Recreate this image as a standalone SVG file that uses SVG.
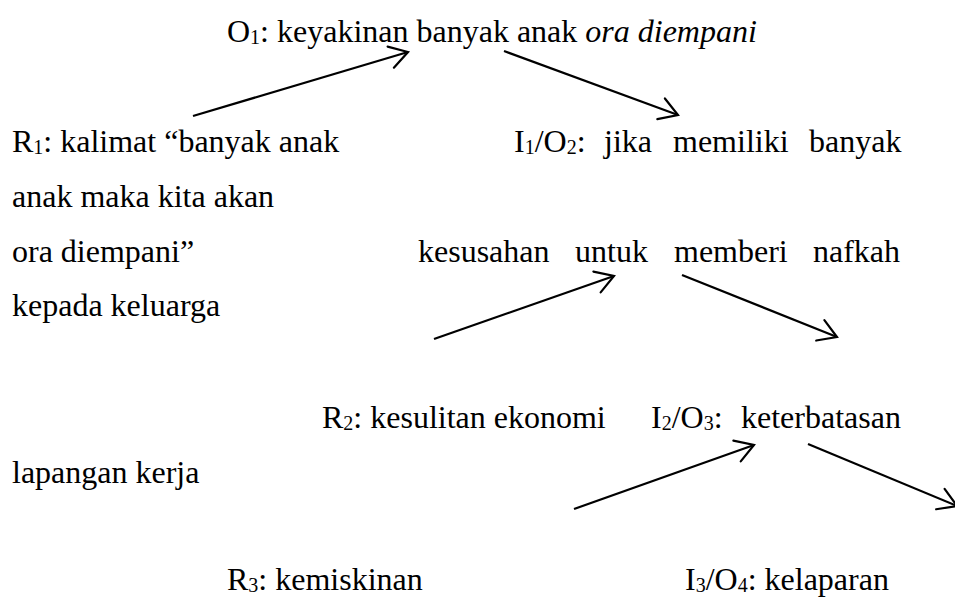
<svg xmlns="http://www.w3.org/2000/svg" width="955" height="597" viewBox="0 0 955 597">
  <style>
    text { font-family: "Liberation Serif", "Times New Roman", serif; font-size: 32px; fill: #000; }
    .sub { font-size: 20px; }
    .it { font-style: italic; }
    .conn { stroke: #000; stroke-width: 2.2; fill: none; marker-end: url(#arr); }
  </style>
  <defs>
    <marker id="arr" markerUnits="userSpaceOnUse" markerWidth="30" markerHeight="30" viewBox="-22 -15 26 30" refX="0" refY="0" orient="auto">
      <path d="M-18,-11 L0,0 L-18,11" fill="none" stroke="#000" stroke-width="2.2" stroke-linecap="round" stroke-linejoin="miter"/>
    </marker>
  </defs>
  <rect width="955" height="597" fill="#fff"/>

  <g id="O1">
    <text x="227" y="42">O<tspan class="sub" dy="2">1</tspan><tspan dy="-2">: keyakinan banyak anak </tspan><tspan class="it">ora diempani</tspan></text>
  </g>

  <g id="R1">
    <text x="12" y="152">R<tspan class="sub" dy="2">1</tspan><tspan dy="-2">: kalimat “banyak anak</tspan></text>
    <text x="12" y="207">anak maka kita akan</text>
    <text x="12" y="262">ora diempani”</text>
    <text x="12" y="316">kepada keluarga</text>
  </g>

  <g id="I1O2">
    <text y="152"><tspan x="514">I</tspan><tspan class="sub" dy="2">1</tspan><tspan dy="-2">/O</tspan><tspan class="sub" dy="2">2</tspan><tspan dy="-2">:</tspan><tspan x="604">jika</tspan><tspan x="673">memiliki</tspan><tspan x="809">banyak</tspan></text>
    <text y="262"><tspan x="418">kesusahan</tspan><tspan x="575">untuk</tspan><tspan x="674">memberi</tspan><tspan x="813">nafkah</tspan></text>
  </g>

  <g id="R2">
    <text x="322" y="428">R<tspan class="sub" dy="2">2</tspan><tspan dy="-2">: kesulitan ekonomi</tspan></text>
  </g>

  <g id="I2O3">
    <text y="428"><tspan x="651">I</tspan><tspan class="sub" dy="2">2</tspan><tspan dy="-2">/O</tspan><tspan class="sub" dy="2">3</tspan><tspan dy="-2">:</tspan><tspan x="741">keterbatasan</tspan></text>
    <text x="12" y="483">lapangan kerja</text>
  </g>

  <g id="R3">
    <text x="227" y="590">R<tspan class="sub" dy="2">3</tspan><tspan dy="-2">: kemiskinan</tspan></text>
  </g>

  <g id="I3O4">
    <text x="685" y="590">I<tspan class="sub" dy="2">3</tspan><tspan dy="-2">/O</tspan><tspan class="sub" dy="2">4</tspan><tspan dy="-2">: kelaparan</tspan></text>
  </g>

  <g id="connectors">
    <line class="conn" x1="193" y1="116" x2="408" y2="52"/>
    <line class="conn" x1="504" y1="51" x2="678" y2="115"/>
    <line class="conn" x1="434" y1="339" x2="614" y2="276"/>
    <line class="conn" x1="682" y1="275" x2="837" y2="337"/>
    <line class="conn" x1="574" y1="509" x2="754" y2="445"/>
    <line class="conn" x1="808" y1="444" x2="957" y2="506"/>
  </g>
</svg>
